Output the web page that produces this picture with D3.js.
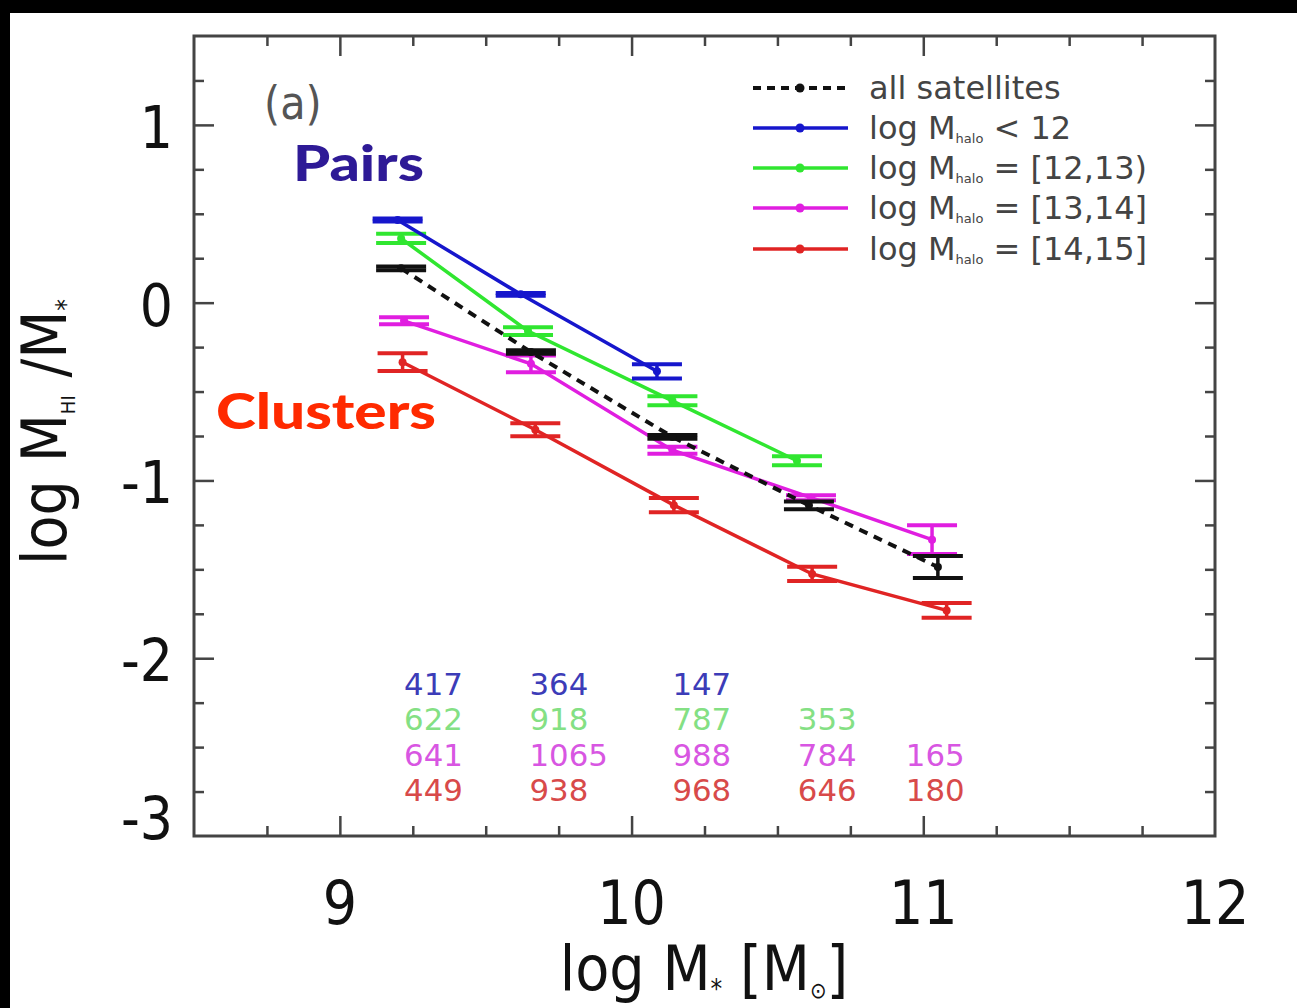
<!DOCTYPE html>
<html>
<head>
<meta charset="utf-8">
<script src="https://cdn.jsdelivr.net/npm/d3@7"></script>
<style>
  html, body { margin: 0; padding: 0; background: #fff; }
  svg { display: block; }
</style>
</head>
<body>
<svg id="chart" width="1297" height="1008"></svg>
<script>
// median log M* and log MHI/M* per stellar-mass bin, one list per halo-mass group
const allX   = [9.21, 9.655, 10.14, 10.608, 11.05];
const allY   = [0.193, -0.278, -0.755, -1.14, -1.487];
const allErr = [0.01, 0.01, 0.01, 0.022, 0.062];

const loX   = [9.198, 9.62, 10.087];
const loY   = [0.465, 0.047, -0.386];
const loErr = [0.008, 0.008, 0.04];

const midX   = [9.21, 9.645, 10.14, 10.567];
const midY   = [0.361, -0.16, -0.552, -0.889];
const midErr = [0.026, 0.022, 0.025, 0.025];

const grpX   = [9.22, 9.655, 10.14, 10.615, 11.03];
const grpY   = [-0.102, -0.344, -0.83, -1.097, -1.333];
const grpErr = [0.02, 0.047, 0.02, 0.014, 0.081];

const clX   = [9.215, 9.67, 10.145, 10.619, 11.08];
const clY   = [-0.335, -0.715, -1.139, -1.526, -1.731];
const clErr = [0.05, 0.037, 0.04, 0.04, 0.042];

// galaxy counts per bin (null = no bin)
const countCols = [9.22, 9.65, 10.14, 10.57, 10.94];
const countsLo  = [417, 364, 147, null, null];
const countsMid = [622, 918, 787, 353, null];
const countsGrp = [641, 1065, 988, 784, 165];
const countsCl  = [449, 938, 968, 646, 180];

const xTicks = [9, 10, 11, 12];
const yTicks = [1, 0, -1, -2, -3];

const legendLabels = [
  { pre: "all satellites", sub: "", post: "" },
  { pre: "log M", sub: "halo", post: " < 12" },
  { pre: "log M", sub: "halo", post: " = [12,13)" },
  { pre: "log M", sub: "halo", post: " = [13,14]" },
  { pre: "log M", sub: "halo", post: " = [14,15]" }
];

const series = [
  { x: allX, y: allY, e: allErr, color: "#111111", dash: "9,7" },
  { x: loX,  y: loY,  e: loErr,  color: "#1616cc", dash: null },
  { x: midX, y: midY, e: midErr, color: "#30e630", dash: null },
  { x: grpX, y: grpY, e: grpErr, color: "#e01ee0", dash: null },
  { x: clX,  y: clY,  e: clErr,  color: "#e02424", dash: null }
];
const countRows = [
  { v: countsLo,  color: "#3c3cb8" },
  { v: countsMid, color: "#84e084" },
  { v: countsGrp, color: "#d856e2" },
  { v: countsCl,  color: "#d84a4a" }
];

const FONT = "'DejaVu Sans Condensed', 'DejaVu Sans', sans-serif";
const frame = { left: 194, right: 1215, top: 36, bottom: 836 };

const svg = d3.select("#chart");

// black scan border
svg.append("rect").attr("x", 0).attr("y", 0).attr("width", 1297).attr("height", 13).attr("fill", "#000");
svg.append("rect").attr("x", 0).attr("y", 0).attr("width", 10).attr("height", 1008).attr("fill", "#000");

const x = d3.scaleLinear().domain([8.5, 12]).range([frame.left, frame.right]);
const y = d3.scaleLinear().domain([-3, 1.5]).range([frame.bottom, frame.top]);

const minorX = d3.range(8.75, 12, 0.25).filter(v => Math.abs(v - Math.round(v)) > 1e-6);
const minorY = d3.range(-2.75, 1.5, 0.25).filter(v => Math.abs(v - Math.round(v)) > 1e-6);
const majorX = [9, 10, 11];
const majorY = [-2, -1, 0, 1];

const axisG = svg.append("g");
function tickAxis(gen, scale, vals, size, tx, ty) {
  axisG.append("g")
    .attr("transform", `translate(${tx},${ty})`)
    .call(gen(scale).tickValues(vals).tickSize(size).tickFormat(""))
    .call(g => g.select(".domain").remove())
    .call(g => g.selectAll(".tick line").attr("stroke", "#444").attr("stroke-width", 2.5));
}
// ticks point inward on all four sides
tickAxis(d3.axisBottom, x, minorX, -10, 0, frame.bottom);
tickAxis(d3.axisBottom, x, majorX, -20, 0, frame.bottom);
tickAxis(d3.axisTop, x, minorX, -10, 0, frame.top);
tickAxis(d3.axisTop, x, majorX, -20, 0, frame.top);
tickAxis(d3.axisLeft, y, minorY, -10, frame.left, 0);
tickAxis(d3.axisLeft, y, majorY, -20, frame.left, 0);
tickAxis(d3.axisRight, y, minorY, -10, frame.right, 0);
tickAxis(d3.axisRight, y, majorY, -20, frame.right, 0);

axisG.append("rect")
  .attr("x", frame.left).attr("y", frame.top)
  .attr("width", frame.right - frame.left).attr("height", frame.bottom - frame.top)
  .attr("fill", "none").attr("stroke", "#444").attr("stroke-width", 3);

// tick labels
svg.append("g").selectAll("text").data(xTicks).join("text")
  .attr("x", d => x(d)).attr("y", 924)
  .attr("text-anchor", "middle")
  .attr("font-family", FONT).attr("font-size", 60).attr("fill", "#111")
  .text(d => d);

svg.append("g").selectAll("text").data(yTicks).join("text")
  .attr("x", 173)
  .attr("y", d => d === -3 ? y(d) + 3 : y(d) + 23)
  .attr("text-anchor", "end")
  .attr("font-family", FONT).attr("font-size", 58).attr("fill", "#111")
  .text(d => d);

// axis titles
const xt = svg.append("text")
  .attr("x", 704).attr("y", 990)
  .attr("text-anchor", "middle")
  .attr("font-family", FONT).attr("font-size", 62).attr("fill", "#111");
xt.append("tspan").text("log M");
xt.append("tspan").attr("font-size", 26).attr("dy", 8).text("*");
xt.append("tspan").attr("dy", -8).text(" [M");
xt.append("tspan").attr("font-size", 22).attr("dy", 8).text("⊙");
xt.append("tspan").attr("dy", -8).text("]");

const yt = svg.append("text")
  .attr("transform", "translate(66,432) rotate(-90)")
  .attr("text-anchor", "middle")
  .attr("font-family", FONT).attr("font-size", 62).attr("fill", "#111");
yt.append("tspan").text("log M");
yt.append("tspan").attr("font-size", 20).attr("dy", 9).text("HI");
yt.append("tspan").attr("dy", -9).text(" /M");
yt.append("tspan").attr("font-size", 26).attr("dy", 9).text("*");

// panel label and annotations
svg.append("text").attr("x", 264).attr("y", 119)
  .attr("font-family", FONT).attr("font-size", 46).attr("fill", "#555")
  .text("(a)");

svg.append("text").attr("x", 293).attr("y", 181)
  .attr("font-family", "Lato, 'Open Sans', sans-serif").attr("font-weight", 900)
  .attr("font-size", 50).attr("fill", "#2e1a96")
  .attr("textLength", 131).attr("lengthAdjust", "spacingAndGlyphs")
  .text("Pairs");

svg.append("text").attr("x", 216).attr("y", 429)
  .attr("font-family", "Lato, 'Open Sans', sans-serif").attr("font-weight", 900)
  .attr("font-size", 50).attr("fill", "#ff2a00")
  .attr("textLength", 220).attr("lengthAdjust", "spacingAndGlyphs")
  .text("Clusters");

// data lines, error bars and points
const line = d3.line().x(d => x(d[0])).y(d => y(d[1]));
const capHalf = 25;
const plotG = svg.append("g");
// draw red first so bluer groups sit on top, black last
const order = [4, 3, 2, 1, 0];
order.forEach(i => {
  const s = series[i];
  const pts = s.x.map((v, k) => [v, s.y[k], s.e[k]]);
  const g = plotG.append("g");
  g.append("path")
    .attr("d", line(pts))
    .attr("fill", "none").attr("stroke", s.color)
    .attr("stroke-width", s.dash ? 4 : 3.5)
    .attr("stroke-dasharray", s.dash);
  const eb = g.selectAll("g.eb").data(pts).join("g").attr("class", "eb");
  eb.append("line")
    .attr("x1", d => x(d[0])).attr("x2", d => x(d[0]))
    .attr("y1", d => y(d[1] + d[2])).attr("y2", d => y(d[1] - d[2]))
    .attr("stroke", s.color).attr("stroke-width", 3.5);
  [1, -1].forEach(sg => {
    eb.append("line")
      .attr("x1", d => x(d[0]) - capHalf).attr("x2", d => x(d[0]) + capHalf)
      .attr("y1", d => y(d[1] + sg * d[2])).attr("y2", d => y(d[1] + sg * d[2]))
      .attr("stroke", s.color).attr("stroke-width", 4);
  });
  eb.append("circle")
    .attr("cx", d => x(d[0])).attr("cy", d => y(d[1])).attr("r", 4)
    .attr("fill", s.color);
});

// counts table: rows are tight, so a smaller font is widened to the reference width
const rowY = [695, 730, 766, 801];
countRows.forEach((r, ri) => {
  svg.append("g").selectAll("text")
    .data(r.v.map((v, k) => ({ v, k })).filter(d => d.v !== null))
    .join("text")
    .attr("x", d => x(countCols[d.k])).attr("y", rowY[ri])
    .attr("font-family", FONT).attr("font-size", 30).attr("fill", r.color)
    .attr("textLength", d => String(d.v).length * 19.6)
    .attr("lengthAdjust", "spacingAndGlyphs")
    .text(d => d.v);
});

// legend
const legY = [88, 128, 168, 208, 249];
const leg = svg.append("g");
legendLabels.forEach((lab, i) => {
  const s = series[i];
  leg.append("line")
    .attr("x1", 753).attr("x2", 848).attr("y1", legY[i]).attr("y2", legY[i])
    .attr("stroke", s.color).attr("stroke-width", s.dash ? 4 : 3.5)
    .attr("stroke-dasharray", s.dash ? "8,6" : null);
  leg.append("circle").attr("cx", 800).attr("cy", legY[i]).attr("r", 4.5).attr("fill", s.color);
  const t = leg.append("text")
    .attr("x", 869).attr("y", legY[i] + 11)
    .attr("font-family", "'DejaVu Sans', sans-serif").attr("font-size", 32).attr("fill", "#444");
  t.append("tspan").text(lab.pre);
  if (lab.sub) {
    t.append("tspan").attr("font-size", 13).attr("dy", 4).text(lab.sub);
    t.append("tspan").attr("dy", -4).text(lab.post);
  }
});
</script>
</body>
</html>
